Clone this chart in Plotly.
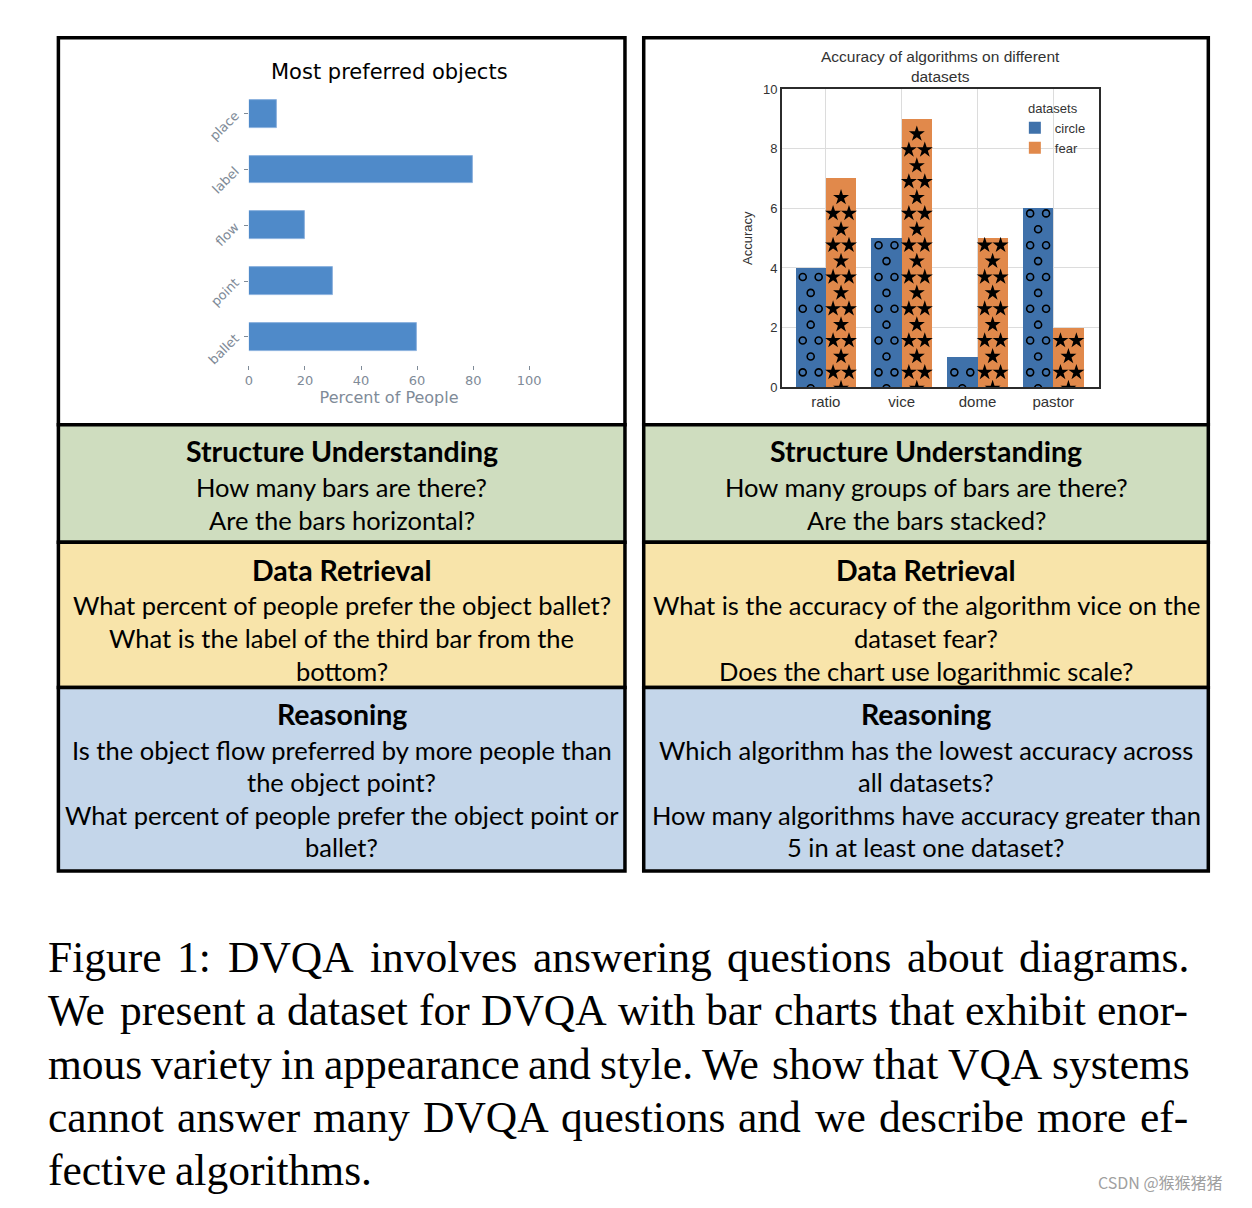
import plotly.graph_objects as go

# the page keeps the browser's 8px body margin, so the figure is drawn 16px smaller
# and every position below is given in page pixels
PAGE_W, PAGE_H = 1252, 1208
M = 8
W, H = PAGE_W - 2 * M, PAGE_H - 2 * M

# left chart data
objects = ["ballet", "point", "flow", "label", "place"]
percent_people = [60, 30, 20, 80, 10]

# right chart data
algorithms = ["ratio", "vice", "dome", "pastor"]
acc_circle = [4, 5, 1, 6]
acc_fear = [7, 9, 5, 2]

# question panels
left_panels = [
    ("Structure Understanding", ["How many bars are there?", "Are the bars horizontal?"]),
    ("Data Retrieval", ["What percent of people prefer the object ballet?",
                        "What is the label of the third bar from the", "bottom?"]),
    ("Reasoning", ["Is the object flow preferred by more people than", "the object point?",
                   "What percent of people prefer the object point or", "ballet?"]),
]
right_panels = [
    ("Structure Understanding", ["How many groups of bars are there?", "Are the bars stacked?"]),
    ("Data Retrieval", ["What is the accuracy of the algorithm vice on the", "dataset fear?",
                        "Does the chart use logarithmic scale?"]),
    ("Reasoning", ["Which algorithm has the lowest accuracy across", "all datasets?",
                   "How many algorithms have accuracy greater than", "5 in at least one dataset?"]),
]

caption_lines = [
    "Figure 1: DVQA involves answering questions about diagrams.",
    "We present a dataset for DVQA with bar charts that exhibit enor-",
    "mous variety in appearance and style. We show that VQA systems",
    "cannot answer many DVQA questions and we describe more ef-",
    "fective algorithms.",
]

# Times / Liberation Serif advance widths (per 1000 em), used to justify the caption
serif_w = {
    " ": 250, "-": 333, ".": 250, ":": 278, "1": 500,
    "A": 722, "C": 667, "D": 722, "F": 556, "Q": 722, "S": 556, "V": 722, "W": 944,
    "a": 444, "b": 500, "c": 444, "d": 500, "e": 444, "f": 333, "g": 500, "h": 500,
    "i": 278, "j": 278, "k": 500, "l": 278, "m": 778, "n": 500, "o": 500, "p": 500,
    "q": 500, "r": 333, "s": 389, "t": 278, "u": 500, "v": 500, "w": 722, "x": 500,
    "y": 500, "z": 444,
}


def px(x):
    return (x - M) / W


def py(y):
    return 1 - (y - M) / H


fig = go.Figure()

# left: horizontal bars
fig.add_trace(go.Bar(
    x=percent_people, y=objects, orientation="h", width=0.5,
    marker=dict(color="#4F8AC9", line=dict(color="#8DB2DE", width=1)),
    xaxis="x", yaxis="y", showlegend=False))

# right: grouped bars on a numeric axis
pos = list(range(len(algorithms)))
fig.add_trace(go.Bar(
    x=[p - 0.2 for p in pos], y=acc_circle, width=0.4, name="circle",
    marker=dict(color="#3F71AA", line=dict(width=0)), xaxis="x2", yaxis="y2"))
fig.add_trace(go.Bar(
    x=[p + 0.2 for p in pos], y=acc_fear, width=0.4, name="fear",
    marker=dict(color="#E1894B", line=dict(width=0)), xaxis="x2", yaxis="y2"))


# hatch marks (circles / stars) laid over the bars
def hatch(values, offset):
    xs, ys = [], []
    for i, v in enumerate(values):
        k = -1
        while True:
            yk = 0.5 + 0.533 * k
            if yk > v - 0.15:
                break
            cols = (-0.105, 0.105) if k % 2 == 0 else (0.0,)
            for c in cols:
                xs.append(i + offset + c)
                ys.append(yk)
            k += 1
    return xs, ys


hx, hy = hatch(acc_circle, -0.2)
fig.add_trace(go.Scatter(
    x=hx, y=hy, mode="markers", xaxis="x2", yaxis="y2", showlegend=False, hoverinfo="skip",
    marker=dict(symbol="circle-open", size=7, color="black", line=dict(width=1.6, color="black"))))
hx, hy = hatch(acc_fear, 0.2)
fig.add_trace(go.Scatter(
    x=hx, y=hy, mode="markers", xaxis="x2", yaxis="y2", showlegend=False, hoverinfo="skip",
    marker=dict(symbol="star", size=12, color="black", line=dict(width=0))))

gray = "#7F8B98"
dark = "#333333"
fig.update_layout(
    width=W, height=H, margin=dict(l=0, r=0, t=0, b=0),
    paper_bgcolor="white", plot_bgcolor="#EAE6DA",
    barmode="overlay", bargap=0,
    xaxis=dict(domain=[px(248), px(532)], range=[0, 100], dtick=20,
               showgrid=True, gridcolor="white", gridwidth=1, zeroline=False,
               ticks="outside", ticklen=4, tickcolor=gray,
               tickfont=dict(family="DejaVu Sans", size=13, color=gray),
               title=dict(text="Percent of People", standoff=4,
                          font=dict(family="DejaVu Sans", size=16, color=gray))),
    yaxis=dict(domain=[py(362), py(80)], range=[-0.5, 4.5],
               showgrid=True, gridcolor="white", gridwidth=1, zeroline=False,
               ticks="outside", ticklen=4, tickcolor=gray, tickangle=-45,
               ticklabelstandoff=6,
               tickfont=dict(family="DejaVu Sans", size=13, color=gray)),
    xaxis2=dict(domain=[px(788), px(1109)], range=[-0.58, 3.6],
                tickvals=pos, ticktext=algorithms, anchor="y2",
                showgrid=True, gridcolor="#DCDCDC", zeroline=False,
                showline=True, mirror=True, linecolor="#2B2B2B", linewidth=1.5,
                tickfont=dict(family="Liberation Sans", size=15, color=dark)),
    yaxis2=dict(domain=[py(385), py(83)], range=[0, 10], dtick=2, anchor="x2",
                showgrid=True, gridcolor="#DCDCDC", zeroline=False,
                showline=True, mirror=True, linecolor="#2B2B2B", linewidth=1.5,
                tickfont=dict(family="Liberation Sans", size=13, color=dark),
                title=dict(text="Accuracy", standoff=8,
                           font=dict(family="Liberation Sans", size=13, color=dark))),
    legend=dict(x=px(1024), y=py(90), xanchor="left", yanchor="top",
                bgcolor="rgba(0,0,0,0)", tracegroupgap=0, itemwidth=30,
                title=dict(text="datasets", side="top center",
                           font=dict(family="Liberation Sans", size=13, color=dark)),
                font=dict(family="Liberation Sans", size=13, color=dark)),
)

# panel boxes
bands = [(31, 423, "white"), (423, 542, "#CFDDBF"), (542, 689, "#F8E4AA"), (689, 875, "#C4D6EA")]
for x0, x1 in [(55, 629), (648, 1220)]:
    for y0, y1, fill in bands:
        fig.add_shape(type="rect", xref="paper", yref="paper",
                      x0=px(x0), x1=px(x1), y0=py(y1), y1=py(y0),
                      fillcolor=fill, line=dict(color="black", width=3.5), layer="below")


def label(x, y, text, size, family, color="black", anchor="center"):
    fig.add_annotation(x=px(x), y=py(y), xref="paper", yref="paper", showarrow=False,
                       xanchor=anchor, yanchor="middle", text=text,
                       font=dict(family=family, size=size, color=color))


# chart titles
label(390, 66, "Most preferred objects", 21, "DejaVu Sans")
label(949, 60, "Accuracy of algorithms on different<br>datasets", 15.5, "Liberation Sans", dark)

# panel text
band_tops = [450, 570, 716]
for cx, panels in [(342, left_panels), (934, right_panels)]:
    for top, (head, lines) in zip(band_tops, panels):
        label(cx, top, "<b>" + head + "</b>", 28.5, "Lato")
        for j, line in enumerate(lines):
            label(cx, top + 36 + 33 * j, line, 25.5, "Lato")

# caption, justified word by word between x=42 and x=1197
fs = 43.5
for j, line in enumerate(caption_lines):
    words = line.split(" ")
    widths = [sum(serif_w.get(ch, 500) for ch in w) / 1000 * fs for w in words]
    if j < len(caption_lines) - 1:
        gap = (1197 - 42 - sum(widths)) / (len(words) - 1)
    else:
        gap = serif_w[" "] / 1000 * fs
    x = 42
    for w, wd in zip(words, widths):
        label(x, 962 + 54 * j, w, fs, "Liberation Serif", anchor="left")
        x += wd + gap

label(1237, 1190, "CSDN @猴猴猪猪", 16, "Noto Sans CJK SC", "#A0A0A0", anchor="right")

fig.write_html("out.html", config={"displayModeBar": False})
